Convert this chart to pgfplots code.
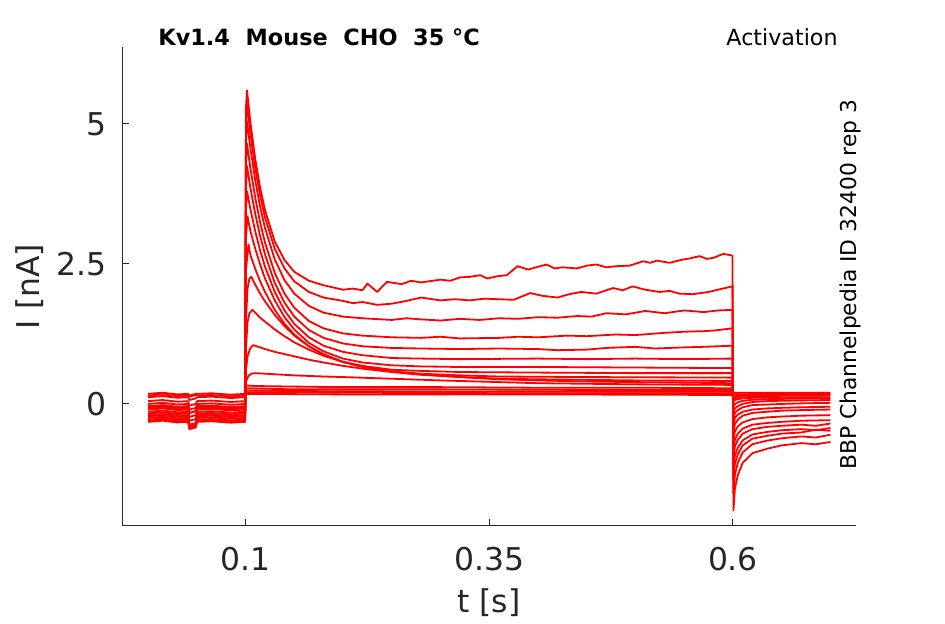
\documentclass[border=0pt]{standalone}
\usepackage{fontspec}
\setmainfont{DejaVu Sans}
\usepackage{pgfplots}
\pgfplotsset{compat=1.18}
\definecolor{axgray}{RGB}{38,38,38}
\pgfplotsset{trace/.style={color=red, mark=none, solid, line width=0.9pt, line join=round}}
\begin{document}
\begin{tikzpicture}
\path[use as bounding box] (-61pt,-49pt) rectangle (411.5pt,263pt);
\begin{axis}[
  at={(0,0)}, anchor=south west, scale only axis,
  width=367pt, height=239.5pt,
  xmin=-0.0267, xmax=0.7262, ymin=-2.18, ymax=6.375,
  axis x line*=bottom, axis y line*=left,
  axis line style={axgray, line width=0.5pt, -},
  xtick={0.1,0.35,0.6}, ytick={0,2.5,5},
  tick align=inside, major tick length=3.5pt,
  tick style={axgray, line width=0.5pt},
  /pgf/number format/assume math mode=true,
  ticklabel style={font=\fontsize{15.7}{18}\selectfont, text=axgray},
  xticklabel style={yshift=-7pt},
  yticklabel style={xshift=-4pt},
  xlabel={t [s]}, ylabel={I [nA]},
  every axis x label/.style={at={(axis description cs:0.5,0)}, anchor=center, yshift=-38.5pt, font=\fontsize{15.7}{18}\selectfont, text=axgray},
  every axis y label/.style={at={(axis description cs:0,0.5)}, xshift=-46pt, anchor=center, rotate=90, font=\fontsize{15.7}{18}\selectfont, text=axgray},
  clip=false,
]
% trace 1
\addplot[trace] coordinates {(0,0.18)(0.015,0.2)(0.03,0.17)(0.041,0.18)(0.0425,0.15)(0.049,0.18)(0.0505,0.18)(0.065,0.19)(0.085,0.165)(0.0995,0.18)
(0.1005,5.3)(0.1015,5.6)(0.105,5.03)(0.11,4.37)(0.115,3.86)(0.12,3.46)(0.13,2.9)(0.14,2.57)(0.15,2.36)(0.165,2.2)(0.18,2.12)(0.19,2.08)(0.2,2.04)(0.21,2.06)(0.22,2.03)(0.225,2.15)(0.235,2.0)(0.245,2.18)(0.26,2.14)(0.27,2.2)(0.28,2.17)(0.3,2.22)(0.31,2.2)(0.32,2.26)(0.33,2.27)(0.341,2.3)(0.348,2.24)(0.358,2.28)(0.368,2.3)(0.379,2.46)(0.39,2.4)(0.4,2.45)(0.409,2.49)(0.417,2.42)(0.425,2.44)(0.44,2.42)(0.45,2.47)(0.46,2.49)(0.47,2.44)(0.48,2.46)(0.494,2.47)(0.508,2.55)(0.515,2.52)(0.522,2.56)(0.535,2.52)(0.546,2.57)(0.556,2.6)(0.566,2.64)(0.573,2.59)(0.58,2.61)(0.59,2.68)(0.5995,2.65)
(0.6005,-1.9)(0.602,-1.51)(0.605,-1.27)(0.61,-1.05)(0.62,-0.88)(0.635,-0.8)(0.65,-0.74)(0.66,-0.72)(0.67,-0.7)(0.685,-0.72)(0.7,-0.68)};
% trace 2
\addplot[trace] coordinates {(0,0.12)(0.015,0.14)(0.03,0.11)(0.041,0.12)(0.0425,0.07)(0.049,0.10)(0.0505,0.12)(0.065,0.13)(0.085,0.105)(0.0995,0.12)
(0.1005,5.0)(0.1015,5.35)(0.105,4.83)(0.11,4.21)(0.115,3.72)(0.12,3.33)(0.13,2.77)(0.14,2.42)(0.15,2.19)(0.165,2.0)(0.18,1.9)(0.2,1.84)(0.21,1.8)(0.22,1.82)(0.235,1.77)(0.25,1.79)(0.265,1.84)(0.28,1.9)(0.3,1.85)(0.315,1.87)(0.33,1.85)(0.345,1.88)(0.36,1.87)(0.375,1.86)(0.392,1.98)(0.405,1.93)(0.42,1.9)(0.432,1.96)(0.444,2.0)(0.46,1.97)(0.477,2.07)(0.487,2.03)(0.497,2.1)(0.51,2.04)(0.525,2.0)(0.535,2.02)(0.545,1.97)(0.559,1.96)(0.575,2.0)(0.587,2.05)(0.5995,2.1)
(0.6005,-1.6)(0.602,-1.26)(0.605,-1.05)(0.61,-0.865)(0.62,-0.718)(0.635,-0.655)(0.65,-0.613)(0.67,-0.58)(0.685,-0.6)(0.7,-0.55)};
% trace 3
\addplot[trace] coordinates {(0,0.05)(0.015,0.07)(0.03,0.04)(0.041,0.05)(0.0425,-0.03)(0.049,0.0)(0.0505,0.05)(0.065,0.06)(0.085,0.035)(0.0995,0.05)
(0.1005,4.7)(0.1015,5.05)(0.105,4.57)(0.11,3.99)(0.115,3.52)(0.12,3.14)(0.13,2.58)(0.14,2.21)(0.15,1.97)(0.165,1.75)(0.18,1.63)(0.2,1.56)(0.22,1.53)(0.25,1.5)(0.265,1.53)(0.28,1.51)(0.3,1.49)(0.32,1.52)(0.34,1.5)(0.36,1.53)(0.38,1.52)(0.4,1.55)(0.42,1.54)(0.44,1.57)(0.455,1.56)(0.47,1.62)(0.49,1.6)(0.51,1.66)(0.53,1.62)(0.55,1.67)(0.57,1.64)(0.585,1.67)(0.5995,1.68)
(0.6005,-1.35)(0.602,-1.07)(0.605,-0.90)(0.61,-0.74)(0.62,-0.62)(0.635,-0.57)(0.65,-0.53)(0.67,-0.51)(0.685,-0.46)(0.7,-0.48)};
% trace 4
\addplot[trace] coordinates {(0,0)(0.015,0.02)(0.03,-0.01)(0.041,0)(0.0425,-0.1)(0.049,-0.07)(0.0505,0)(0.065,0.01)(0.085,-0.015)(0.0995,0)
(0.1005,4.3)(0.1015,4.65)(0.105,4.21)(0.11,3.68)(0.115,3.24)(0.12,2.88)(0.13,2.34)(0.14,1.97)(0.15,1.72)(0.165,1.48)(0.18,1.35)(0.2,1.26)(0.22,1.22)(0.25,1.19)(0.28,1.18)(0.3,1.2)(0.32,1.17)(0.36,1.18)(0.38,1.2)(0.4,1.19)(0.43,1.22)(0.45,1.21)(0.48,1.24)(0.5,1.23)(0.53,1.27)(0.55,1.29)(0.57,1.3)(0.58,1.31)(0.5995,1.35)
(0.6005,-1.15)(0.602,-0.92)(0.605,-0.78)(0.61,-0.65)(0.62,-0.545)(0.635,-0.5)(0.65,-0.47)(0.67,-0.45)(0.685,-0.47)(0.7,-0.43)};
% trace 5
\addplot[trace] coordinates {(0,-0.04)(0.015,-0.02)(0.03,-0.05)(0.041,-0.04)(0.0425,-0.16)(0.049,-0.13)(0.0505,-0.04)(0.065,-0.03)(0.085,-0.055)(0.0995,-0.04)
(0.1005,3.9)(0.1015,4.25)(0.105,3.86)(0.11,3.39)(0.115,3.0)(0.12,2.67)(0.13,2.16)(0.14,1.81)(0.15,1.56)(0.165,1.32)(0.18,1.18)(0.2,1.08)(0.22,1.03)(0.25,1.0)(0.28,0.99)(0.32,0.98)(0.36,0.99)(0.4,0.98)(0.42,0.96)(0.45,0.97)(0.47,1.0)(0.5,1.02)(0.52,0.99)(0.55,1.01)(0.57,1.02)(0.5995,1.04)
(0.6005,-0.95)(0.602,-0.76)(0.605,-0.64)(0.61,-0.53)(0.62,-0.45)(0.635,-0.41)(0.65,-0.39)(0.67,-0.37)(0.685,-0.39)(0.7,-0.35)};
% trace 6
\addplot[trace] coordinates {(0,-0.08)(0.015,-0.06)(0.03,-0.09)(0.041,-0.08)(0.0425,-0.23)(0.049,-0.2)(0.0505,-0.08)(0.065,-0.07)(0.085,-0.095)(0.0995,-0.08)
(0.1005,3.5)(0.1015,3.8)(0.105,3.48)(0.11,3.08)(0.115,2.74)(0.12,2.45)(0.13,2.0)(0.14,1.67)(0.15,1.43)(0.165,1.19)(0.18,1.04)(0.2,0.93)(0.22,0.87)(0.25,0.82)(0.28,0.81)(0.32,0.8)(0.4,0.81)(0.45,0.8)(0.5,0.81)(0.55,0.8)(0.5995,0.81)
(0.6005,-0.8)(0.602,-0.64)(0.605,-0.53)(0.61,-0.44)(0.62,-0.37)(0.635,-0.34)(0.65,-0.32)(0.67,-0.3)(0.7,-0.29)};
% trace 7
\addplot[trace] coordinates {(0,-0.1)(0.015,-0.08)(0.03,-0.11)(0.041,-0.1)(0.0425,-0.3)(0.049,-0.27)(0.0505,-0.1)(0.065,-0.09)(0.085,-0.115)(0.0995,-0.1)
(0.1005,3.0)(0.102,3.35)(0.105,3.09)(0.11,2.77)(0.115,2.49)(0.12,2.24)(0.13,1.85)(0.14,1.55)(0.15,1.33)(0.165,1.09)(0.18,0.94)(0.2,0.81)(0.22,0.74)(0.25,0.69)(0.28,0.67)(0.32,0.66)(0.4,0.66)(0.5,0.65)(0.5995,0.64)
(0.6005,-0.62)(0.602,-0.49)(0.605,-0.4)(0.61,-0.33)(0.62,-0.27)(0.635,-0.24)(0.65,-0.225)(0.67,-0.21)(0.7,-0.2)};
% trace 8
\addplot[trace] coordinates {(0,-0.14)(0.015,-0.12)(0.03,-0.15)(0.041,-0.14)(0.0425,-0.39)(0.049,-0.36)(0.0505,-0.14)(0.065,-0.13)(0.085,-0.155)(0.0995,-0.14)
(0.1005,2.4)(0.103,2.85)(0.105,2.66)(0.11,2.41)(0.115,2.19)(0.12,2.0)(0.13,1.68)(0.14,1.43)(0.15,1.24)(0.165,1.03)(0.18,0.88)(0.2,0.75)(0.22,0.68)(0.25,0.61)(0.28,0.59)(0.32,0.57)(0.4,0.56)(0.5,0.55)(0.5995,0.55)
(0.6005,-0.48)(0.602,-0.36)(0.605,-0.28)(0.61,-0.21)(0.62,-0.16)(0.635,-0.14)(0.65,-0.12)(0.67,-0.11)(0.7,-0.1)};
% trace 9
\addplot[trace] coordinates {(0,-0.17)(0.015,-0.15)(0.03,-0.18)(0.041,-0.17)(0.0425,-0.37)(0.049,-0.34)(0.0505,-0.17)(0.065,-0.16)(0.085,-0.185)(0.0995,-0.17)
(0.1005,1.5)(0.102,2.05)(0.104,2.24)(0.106,2.27)(0.11,2.13)(0.115,1.97)(0.12,1.83)(0.13,1.59)(0.14,1.39)(0.15,1.22)(0.165,1.03)(0.18,0.89)(0.2,0.75)(0.22,0.66)(0.25,0.58)(0.28,0.54)(0.32,0.51)(0.36,0.49)(0.45,0.48)(0.5995,0.47)
(0.6005,-0.35)(0.602,-0.25)(0.605,-0.19)(0.61,-0.14)(0.62,-0.1)(0.635,-0.08)(0.65,-0.07)(0.67,-0.06)(0.7,-0.05)};
% trace 10
\addplot[trace] coordinates {(0,-0.2)(0.015,-0.18)(0.03,-0.21)(0.041,-0.2)(0.0425,-0.45)(0.049,-0.42)(0.0505,-0.2)(0.065,-0.19)(0.085,-0.215)(0.0995,-0.2)
(0.1005,1.0)(0.102,1.45)(0.104,1.62)(0.107,1.68)(0.11,1.63)(0.115,1.54)(0.12,1.47)(0.13,1.33)(0.14,1.21)(0.15,1.1)(0.165,0.97)(0.18,0.86)(0.2,0.75)(0.22,0.67)(0.25,0.58)(0.28,0.53)(0.32,0.48)(0.36,0.45)(0.4,0.44)(0.45,0.43)(0.5,0.42)(0.5995,0.41)
(0.6005,-0.25)(0.602,-0.16)(0.605,-0.11)(0.61,-0.06)(0.62,-0.02)(0.635,-0.01)(0.65,0.0)(0.67,0.01)(0.7,0.02)};
% trace 11
\addplot[trace] coordinates {(0,-0.22)(0.015,-0.2)(0.03,-0.23)(0.041,-0.22)(0.0425,-0.42)(0.049,-0.39)(0.0505,-0.22)(0.065,-0.21)(0.085,-0.235)(0.0995,-0.22)
(0.1005,0.6)(0.102,0.85)(0.105,1.0)(0.108,1.05)(0.115,1.01)(0.12,0.98)(0.13,0.93)(0.14,0.89)(0.15,0.85)(0.165,0.79)(0.18,0.74)(0.2,0.68)(0.22,0.63)(0.25,0.57)(0.28,0.52)(0.32,0.48)(0.36,0.44)(0.4,0.42)(0.45,0.4)(0.5,0.39)(0.55,0.38)(0.5995,0.37)
(0.6005,-0.15)(0.602,-0.08)(0.605,-0.04)(0.61,0.0)(0.62,0.035)(0.635,0.05)(0.65,0.057)(0.67,0.063)(0.7,0.07)};
% trace 12
\addplot[trace] coordinates {(0,-0.25)(0.015,-0.23)(0.03,-0.26)(0.041,-0.25)(0.0425,-0.43)(0.049,-0.4)(0.0505,-0.25)(0.065,-0.24)(0.085,-0.265)(0.0995,-0.25)
(0.1005,0.4)(0.103,0.5)(0.106,0.54)(0.11,0.55)(0.13,0.53)(0.15,0.51)(0.18,0.49)(0.2,0.48)(0.25,0.45)(0.3,0.42)(0.36,0.39)(0.4,0.37)(0.45,0.36)(0.5,0.35)(0.5995,0.34)
(0.6005,-0.05)(0.602,0.0)(0.605,0.03)(0.61,0.055)(0.62,0.075)(0.635,0.085)(0.65,0.09)(0.67,0.095)(0.7,0.1)};
% trace 13
\addplot[trace] coordinates {(0,-0.28)(0.015,-0.26)(0.03,-0.29)(0.041,-0.28)(0.0425,-0.43)(0.049,-0.4)(0.0505,-0.28)(0.065,-0.27)(0.085,-0.295)(0.0995,-0.28)
(0.1005,0.33)(0.11,0.32)(0.15,0.31)(0.2,0.3)(0.3,0.3)(0.4,0.29)(0.5,0.29)(0.5995,0.28)
(0.6005,0.05)(0.602,0.07)(0.605,0.085)(0.61,0.1)(0.62,0.11)(0.65,0.115)(0.7,0.12)};
% trace 14
\addplot[trace] coordinates {(0,-0.3)(0.015,-0.28)(0.03,-0.31)(0.041,-0.3)(0.0425,-0.42)(0.049,-0.39)(0.0505,-0.3)(0.065,-0.29)(0.085,-0.315)(0.0995,-0.3)
(0.1005,0.28)(0.15,0.26)(0.3,0.26)(0.45,0.25)(0.5995,0.25)
(0.6005,0.1)(0.61,0.135)(0.65,0.145)(0.7,0.15)};
% trace 15
\addplot[trace] coordinates {(0,-0.32)(0.015,-0.3)(0.03,-0.33)(0.041,-0.32)(0.0425,-0.42)(0.049,-0.39)(0.0505,-0.32)(0.065,-0.31)(0.085,-0.335)(0.0995,-0.32)
(0.1005,0.24)(0.15,0.23)(0.3,0.22)(0.45,0.22)(0.5995,0.22)
(0.6005,0.13)(0.61,0.16)(0.7,0.17)};
% trace 16
\addplot[trace] coordinates {(0,0.15)(0.015,0.17)(0.03,0.14)(0.041,0.15)(0.0425,0.13)(0.049,0.16)(0.0505,0.15)(0.065,0.16)(0.085,0.135)(0.0995,0.15)
(0.1005,0.21)(0.2,0.2)(0.4,0.19)(0.5995,0.19)
(0.6005,0.17)(0.65,0.185)(0.7,0.19)};
% trace 17
\addplot[trace] coordinates {(0,-0.06)(0.015,-0.04)(0.03,-0.07)(0.041,-0.06)(0.0425,-0.16)(0.049,-0.13)(0.0505,-0.06)(0.065,-0.05)(0.085,-0.075)(0.0995,-0.06)
(0.1005,0.18)(0.2,0.17)(0.4,0.17)(0.5995,0.16)
(0.6005,0.2)(0.65,0.2)(0.7,0.2)};
\node[anchor=base west, font=\bfseries\fontsize{11.2}{13}\selectfont, inner sep=0pt] at (rel axis cs:0,1) [xshift=18pt, yshift=0.5pt] {Kv1.4\ \ Mouse\ \ CHO\ \ 35~°C};
\node[anchor=base east, font=\fontsize{11.1}{13}\selectfont, inner sep=0pt] at (rel axis cs:1,1) [xshift=-9pt, yshift=0.5pt] {Activation};
\node[anchor=base, rotate=90, font=\fontsize{10.9}{13}\selectfont, inner sep=0pt] at (rel axis cs:1,0.5) [xshift=1pt] {BBP Channelpedia ID 32400 rep 3};
\end{axis}
\end{tikzpicture}
\end{document}
